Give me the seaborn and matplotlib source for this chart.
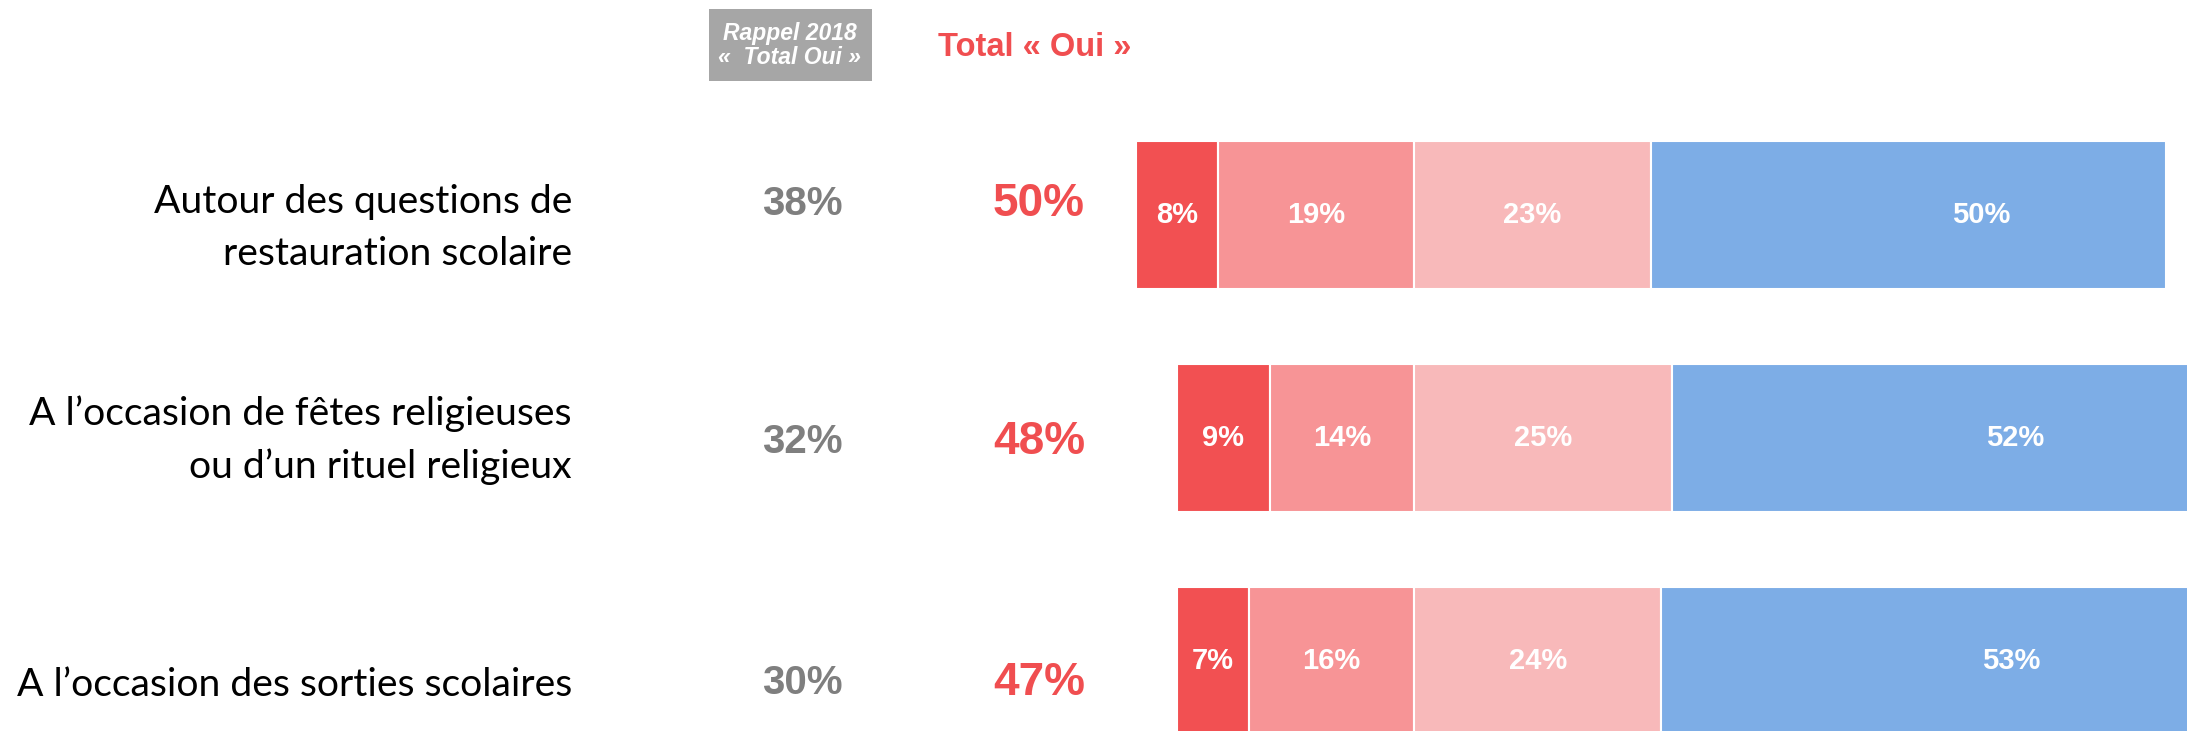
"""
Stacked horizontal bars - Total "Oui" par situation
"""

import matplotlib.pyplot as plt
import seaborn as sns
from matplotlib.patches import Rectangle
from matplotlib.transforms import blended_transform_factory

ROW_LABELS = [
    "Autour des questions de\nrestauration scolaire",
    "A l\u2019occasion de fêtes religieuses\nou d\u2019un rituel religieux",
    "A l\u2019occasion des sorties scolaires",
]
RAPPEL_2018 = ["38%", "32%", "30%"]
TOTAL_OUI = ["50%", "48%", "47%"]

# segments, left to right
SEG_1 = [8, 9, 7]
SEG_2 = [19, 14, 16]
SEG_3 = [23, 25, 24]
SEG_4 = [50, 52, 53]

SEG_COLORS = ["#F25052", "#F79496", "#F8B9BA", "#7DADE6"]
GRAY = "#7F7F7F"
RED = "#F04E50"

LABEL_DY = [0.06, 0.01, 0.11]
NUM_DY = [-0.05, 0.02, 0.1]


def draw_chart() -> None:
    sns.set_theme(style="white")
    plt.rcParams["font.family"] = ["Liberation Sans", "DejaVu Sans"]

    fig = plt.figure(figsize=(21.87, 7.31), dpi=100)
    ax = fig.add_axes([0, 0, 1, 1])
    ax.set_xlim(-137.2, 75.0)
    ax.set_ylim(2.314, -0.963)
    ax.axis("off")

    segments = [SEG_1, SEG_2, SEG_3, SEG_4]
    rows = range(len(ROW_LABELS))

    # bars are aligned on the end of the second segment
    for i in rows:
        left = -(SEG_1[i] + SEG_2[i])
        for k, seg in enumerate(segments):
            value = seg[i]
            ax.barh(i, value, left=left, height=0.664, color=SEG_COLORS[k],
                    edgecolor="white", linewidth=1.5)
            if k == 3:
                x_text = left + value * 0.64
            else:
                x_text = left + value / 2
            ax.text(x_text, i, f"{value}%", color="white", fontsize=21,
                    fontweight="bold", ha="center", va="center")
            left += value

    mixed = blended_transform_factory(fig.transFigure, ax.transData)
    for i in rows:
        ax.text(0.2615, i + LABEL_DY[i], ROW_LABELS[i], transform=mixed,
                family=["Lato", "DejaVu Sans"], fontsize=28.2, ha="right",
                va="center", linespacing=1.55, color="black")
        ax.text(0.3667, i + NUM_DY[i], RAPPEL_2018[i], transform=mixed,
                fontsize=29, fontweight="bold", color=GRAY,
                ha="center", va="center")
        ax.text(0.475, i + NUM_DY[i], TOTAL_OUI[i], transform=mixed,
                fontsize=33, fontweight="bold", color=RED,
                ha="center", va="center")

    # header
    fig.patches.append(Rectangle((0.3242, 0.8892), 0.0745, 0.0985,
                                 transform=fig.transFigure,
                                 facecolor="#A6A6A6", edgecolor="none"))
    fig.text(0.3612, 0.9378, "Rappel 2018\n«  Total Oui »", color="white",
             fontsize=16.5, fontweight="bold", fontstyle="italic",
             ha="center", va="center", linespacing=1.05)
    fig.text(0.4733, 0.9357, "Total « Oui »", color=RED, fontsize=23.5,
             fontweight="bold", ha="center", va="center")

    fig.savefig("out.png", dpi=100)


if __name__ == "__main__":
    draw_chart()
